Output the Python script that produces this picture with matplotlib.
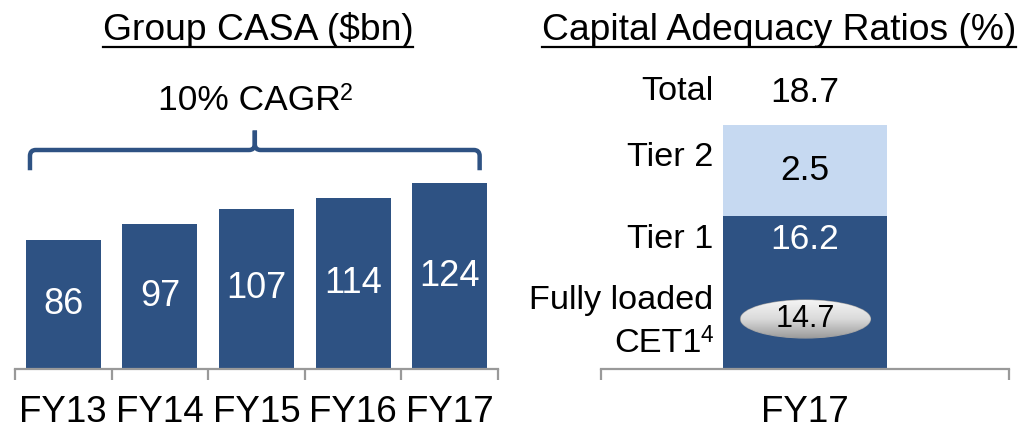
import numpy as np
import matplotlib
matplotlib.use("Agg")
import matplotlib.pyplot as plt
from matplotlib.path import Path
from matplotlib.patches import PathPatch, Ellipse
from matplotlib.lines import Line2D
from matplotlib.colors import LinearSegmentedColormap

plt.rcParams['font.family'] = ['Liberation Sans', 'DejaVu Sans']

# data
casa_years = ["FY13", "FY14", "FY15", "FY16", "FY17"]
casa_values = [86, 97, 107, 114, 124]
cagr_label = ("10% CAGR", "2")

car_year = ["FY17"]
tier1 = [16.2]
tier2 = [2.5]
total = [18.7]
cet1 = [14.7]

NAVY = "#2E5283"
LIGHT = "#C6D9F1"
AXIS = "#999999"

W, H = 1029, 433
fig = plt.figure(figsize=(W / 100, H / 100), dpi=100)


def fx(px):
    return px / W


def fy(py):
    return 1 - py / H


def sup_text(x, y, base, sup, size, ha="center"):
    """base text plus a raised smaller superscript, positioned in figure pixels"""
    t = fig.text(0, 0, base, fontsize=size)
    s = fig.text(0, 0, sup, fontsize=size * 0.66)
    fig.canvas.draw()
    wb = t.get_window_extent().width
    ws = s.get_window_extent().width
    tot = wb + ws - 1
    left = x - tot / 2 if ha == "center" else x - tot
    t.set_position((fx(left), fy(y)))
    t.set_va("center")
    s.set_position((fx(left + wb - 1), fy(y - 8)))
    s.set_va("center")


def underline_title(x, y, s):
    t = fig.text(fx(x), fy(y), s, ha="center", va="center", fontsize=26.8)
    fig.canvas.draw()
    bb = t.get_window_extent().transformed(fig.transFigure.inverted())
    fig.add_artist(Line2D([bb.x0, bb.x1], [fy(46.5), fy(46.5)],
                          transform=fig.transFigure, color="black", lw=1.6))


# ---- left: Group CASA ----
ax1 = fig.add_axes([fx(15), fy(369), fx(498) - fx(15), fy(60) - fy(369)])
x = np.arange(len(casa_values))
bars = ax1.bar(x, casa_values, width=0.775, color=NAVY)
ax1.bar_label(bars, labels=[str(v) for v in casa_values], label_type="center",
              color="white", fontsize=26)
ax1.set_xlim(-0.5, len(casa_values) - 0.5)
ax1.set_ylim(0, 309 / 1.5)
ax1.set_xticks(x)
ax1.set_xticklabels(casa_years, fontsize=26.5)
ax1.set_xticks(np.arange(len(casa_values) + 1) - 0.5, minor=True)
ax1.tick_params(axis="x", which="major", length=0, pad=19)
ax1.tick_params(axis="x", which="minor", length=8, width=1.6, color=AXIS)
ax1.set_yticks([])
for s in ["top", "left", "right"]:
    ax1.spines[s].set_visible(False)
ax1.spines["bottom"].set_color(AXIS)
ax1.spines["bottom"].set_linewidth(1.6)

# brace over the bars
bx0, bx1 = -0.345, 4.31
bxc = (bx0 + bx1) / 2
ylo, ymid, ytop = 132.5, 146.0, 159.0
rx, ry = 0.06, 4.0
codes = [Path.MOVETO, Path.LINETO, Path.CURVE3, Path.CURVE3,
         Path.LINETO, Path.CURVE3, Path.CURVE3, Path.LINETO]
for xe, sgn in ((bx0, 1), (bx1, -1)):
    verts = [(xe, ylo), (xe, ymid - ry), (xe, ymid), (xe + sgn * rx, ymid),
             (bxc - sgn * rx, ymid), (bxc, ymid), (bxc, ymid + ry), (bxc, ytop)]
    ax1.add_patch(PathPatch(Path(verts, codes), fill=False, edgecolor=NAVY,
                            lw=3.2, capstyle="butt", joinstyle="round"))
sup_text(255, 101, cagr_label[0], cagr_label[1], 25.5)

underline_title(258, 30, "Group CASA ($bn)")

# ---- right: Capital Adequacy Ratios ----
# segments are not drawn to scale in the source: stretch everything above Tier 1
brk = tier1[0]
k = 3.855


def fwd(y):
    y = np.asarray(y, dtype=float)
    return np.where(y <= brk, y, brk + (y - brk) * k)


def inv(y):
    y = np.asarray(y, dtype=float)
    return np.where(y <= brk, y, brk + (y - brk) / k)


ax2 = fig.add_axes([fx(601), fy(369), fx(1009) - fx(601), fy(60) - fy(369)])
ax2.set_yscale("function", functions=(fwd, inv))
ax2.bar([0], tier1, width=0.4, color=NAVY)
ax2.bar([0], tier2, bottom=tier1, width=0.4, color=LIGHT)
ax2.set_xlim(-0.5, 0.5)
ax2.set_ylim(0, float(inv(309 / 9.44)))
ax2.set_xticks([0])
ax2.set_xticklabels(car_year, fontsize=26.5)
ax2.set_xticks([-0.5, 0.5], minor=True)
ax2.tick_params(axis="x", which="major", length=0, pad=19)
ax2.tick_params(axis="x", which="minor", length=8, width=1.6, color=AXIS)
ax2.set_yticks([])
ax2.yaxis.set_minor_locator(matplotlib.ticker.NullLocator())
for s in ["top", "left", "right"]:
    ax2.spines[s].set_visible(False)
ax2.spines["bottom"].set_color(AXIS)
ax2.spines["bottom"].set_linewidth(1.6)

# values
ax2.text(0, tier1[0] + tier2[0] / 2, f"{tier2[0]}", ha="center", va="center",
         fontsize=25.5)
fig.text(fx(805), fy(240), f"{tier1[0]}", ha="center", va="center",
         color="white", fontsize=25.5)
fig.text(fx(805), fy(93), f"{total[0]}", ha="center", va="center", fontsize=25.5)

# row labels
for lbl, py in [("Total", 92), ("Tier 2", 157), ("Tier 1", 240),
                ("Fully loaded", 300)]:
    fig.text(fx(713), fy(py), lbl, ha="right", va="center", fontsize=24.7)
sup_text(713, 343, "CET1", "4", 24.7, ha="right")

# CET1 ellipse with grey gradient
ecx, ecy = fx(805.5), fy(319)
ew, eh = fx(130), 38 / H
grad = np.linspace(0, 1, 100).reshape(-1, 1)
gax = fig.add_axes([0, 0, 1, 1], zorder=3)
gax.set_axis_off()
gax.set_xlim(0, 1)
gax.set_ylim(0, 1)
cmap = LinearSegmentedColormap.from_list("g", ["#f4f4f4", "#dadada", "#9c9c9c"])
im = gax.imshow(grad, cmap=cmap, origin="upper",
                extent=[ecx - ew / 2, ecx + ew / 2, ecy - eh / 2, ecy + eh / 2],
                aspect="auto", zorder=3)
clip = Ellipse((ecx, ecy), ew, eh, transform=gax.transData, facecolor="none",
               edgecolor="none")
gax.add_patch(clip)
im.set_clip_path(clip)
gax.add_patch(Ellipse((ecx, ecy), ew, eh, facecolor="none",
                      edgecolor="#a0a0a0", lw=0.8))
gax.text(ecx, ecy, f"{cet1[0]}", ha="center", va="center", fontsize=22)

underline_title(779, 30, "Capital Adequacy Ratios (%)")

fig.savefig("out.png", dpi=100)
